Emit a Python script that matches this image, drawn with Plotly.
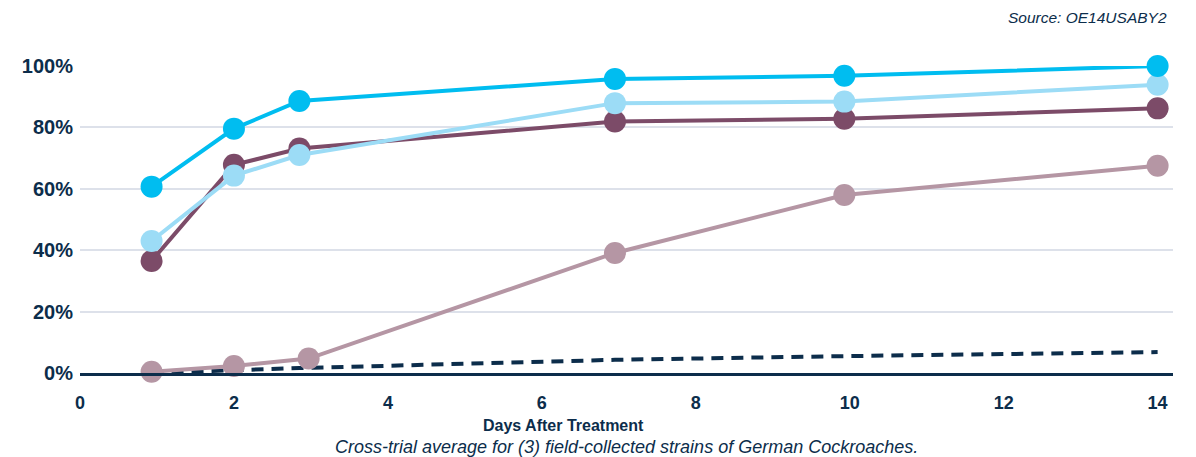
import plotly.graph_objects as go

# Data
days_a = [0.93, 2.0, 2.85, 6.95, 9.93, 14.0]
days_mauve = [0.93, 2.0, 2.97, 6.95, 9.93, 14.0]
days_dash = [0.93, 2.0, 2.85, 6.95, 9.93, 14.0]

cyan_vals = [60.7, 79.6, 88.6, 95.8, 96.8, 100.0]
lightblue_vals = [43.0, 64.3, 71.0, 87.9, 88.4, 93.9]
purple_vals = [36.5, 67.8, 73.1, 81.9, 82.8, 86.2]
mauve_vals = [0.4, 2.3, 4.7, 39.1, 58.0, 67.5]
dash_vals = [0.0, 1.0, 1.6, 4.3, 5.5, 6.8]

x_ticks = [0, 2, 4, 6, 8, 10, 12, 14]
y_ticks = [0, 20, 40, 60, 80, 100]
y_tick_text = ["0%", "20%", "40%", "60%", "80%", "100%"]

NAVY = "#0c2d4b"
CYAN = "#00bdf0"
LIGHTBLUE = "#9cdcf6"
PURPLE = "#7c4b68"
MAUVE = "#b596a4"

fig = go.Figure()

fig.add_trace(go.Scatter(x=days_dash, y=dash_vals, mode="lines",
                         line=dict(color=NAVY, width=4, dash="12px,8px"),
                         hoverinfo="skip", showlegend=False, cliponaxis=False))
fig.add_trace(go.Scatter(x=days_mauve, y=mauve_vals, mode="lines+markers",
                         line=dict(color=MAUVE, width=4),
                         marker=dict(size=22, color=MAUVE),
                         showlegend=False, cliponaxis=False))
fig.add_trace(go.Scatter(x=days_a, y=purple_vals, mode="lines+markers",
                         line=dict(color=PURPLE, width=4),
                         marker=dict(size=22, color=PURPLE),
                         showlegend=False, cliponaxis=False))
fig.add_trace(go.Scatter(x=days_a, y=lightblue_vals, mode="lines+markers",
                         line=dict(color=LIGHTBLUE, width=4),
                         marker=dict(size=22, color=LIGHTBLUE),
                         showlegend=False, cliponaxis=False))
fig.add_trace(go.Scatter(x=days_a, y=cyan_vals, mode="lines+markers",
                         line=dict(color=CYAN, width=4),
                         marker=dict(size=22, color=CYAN),
                         showlegend=False, cliponaxis=False))

fig.update_layout(
    width=1196, height=457,
    margin=dict(l=80, r=23, t=66, b=84),
    paper_bgcolor="white", plot_bgcolor="white",
    font=dict(family="Liberation Sans, Arial, sans-serif", color=NAVY),
    xaxis=dict(range=[0, 14.2], tickvals=x_ticks, showgrid=False, zeroline=False,
               showline=True, linecolor=NAVY, linewidth=2.5,
               ticks="", ticklabelstandoff=12,
               tickfont=dict(size=18, color=NAVY, family="Liberation Sans, Arial, sans-serif", weight="bold")),
    yaxis=dict(range=[0, 100], tickvals=y_ticks, ticktext=y_tick_text,
               showgrid=True, gridcolor="#dde1ea", gridwidth=2, zeroline=False,
               showline=False, ticks="", ticklabelstandoff=6,
               tickfont=dict(size=20, color=NAVY, family="Liberation Sans, Arial, sans-serif", weight="bold")),
    annotations=[
        dict(text="<b>Days After Treatment</b>", xref="paper", yref="paper",
             x=0.442, y=0, yshift=-52, xanchor="center", yanchor="middle",
             showarrow=False, font=dict(size=16, color=NAVY)),
        dict(text="<i>Cross-trial average for (3) field-collected strains of German Cockroaches.</i>",
             xref="paper", yref="paper", x=0.5, y=0, yshift=-74,
             xanchor="center", yanchor="middle", showarrow=False,
             font=dict(size=18, color=NAVY)),
        dict(text="<i>Source: OE14USABY2</i>", xref="paper", yref="paper",
             x=1, y=1, xshift=-4, yshift=49, xanchor="right", yanchor="middle",
             showarrow=False, font=dict(size=15.5, color=NAVY)),
    ],
)

fig.write_html("out.html", config={"displayModeBar": False},
               post_script="document.body.style.margin='0';document.body.style.overflow='hidden';")
